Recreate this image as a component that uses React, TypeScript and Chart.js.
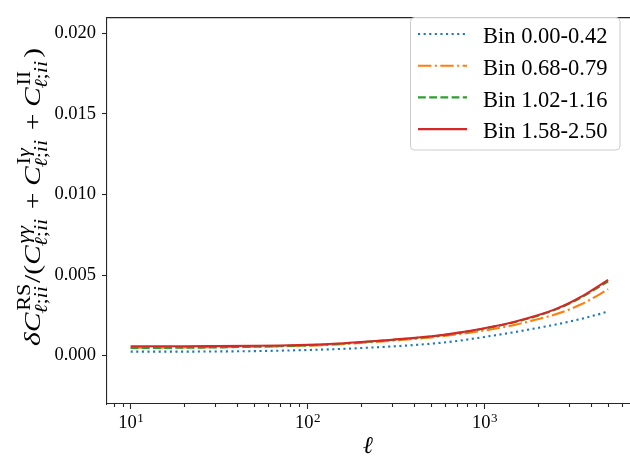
import React, { useEffect, useRef } from 'react';
import { Chart, registerables } from 'chart.js';

Chart.register(...registerables);

// ---------- data ----------
const ells = [10, 15, 20, 30, 50, 70, 100, 150, 200, 300, 500, 700, 1000, 1500, 2000, 2500, 3000, 3500, 4000, 4500, 5000];
const bin000_042 = [0.00025, 0.00025, 0.00025, 0.00026, 0.00028, 0.00031, 0.00035, 0.00041, 0.00047, 0.00057, 0.00074, 0.00091, 0.00116, 0.00147, 0.00172, 0.00192, 0.00210, 0.00227, 0.00244, 0.00259, 0.00274];
const bin068_079 = [0.00050, 0.00050, 0.00051, 0.00052, 0.00055, 0.00058, 0.00062, 0.00070, 0.00079, 0.00093, 0.00113, 0.00132, 0.00156, 0.00192, 0.00226, 0.00255, 0.00285, 0.00317, 0.00350, 0.00382, 0.00413];
const bin102_116 = [0.00047, 0.00048, 0.00049, 0.00051, 0.00055, 0.00059, 0.00064, 0.00073, 0.00083, 0.00097, 0.00118, 0.00139, 0.00168, 0.00209, 0.00247, 0.00284, 0.00321, 0.00359, 0.00396, 0.00430, 0.00460];
const bin158_250 = [0.00058, 0.00058, 0.00058, 0.00059, 0.00061, 0.00063, 0.00067, 0.00075, 0.00085, 0.00099, 0.00120, 0.00141, 0.00170, 0.00212, 0.00250, 0.00287, 0.00325, 0.00364, 0.00402, 0.00437, 0.00470];
const seriesLabels = ['Bin 0.00-0.42', 'Bin 0.68-0.79', 'Bin 1.02-1.16', 'Bin 1.58-2.50'];
const yTicks = [0, 0.005, 0.01, 0.015, 0.02];
const xMajorTicks = [10, 100, 1000];
const xLabel = 'ℓ';

// ---------- styles ----------
const SERIF = "'Liberation Serif', 'DejaVu Serif', serif";
const SPINE = '#262626';
const LW = 2.1;
const styles = [
  { color: '#1f77b4', dash: [2.1, 3.5] },
  { color: '#ff7f0e', dash: [13.4, 3.4, 2.1, 3.4] },
  { color: '#2ca02c', dash: [7.8, 3.4] },
  { color: '#d62728', dash: [] as number[] },
];
const seriesValues = [bin000_042, bin068_079, bin102_116, bin158_250];

type Run = [string, boolean];
type Item = { base: string; it: boolean; sup?: Run[]; sub?: Run[]; pad?: number };
const ellSub: Run[] = [['ℓ', true], [';', false], ['ii', true]];
const yLabelItems: Item[] = [
  { base: 'δ', it: true },
  { base: 'C', it: true, sup: [['RS', false]], sub: ellSub },
  { base: '/(', it: false },
  { base: 'C', it: true, sup: [['γγ', true]], sub: ellSub },
  { base: '+', it: false, pad: 0.22 },
  { base: 'C', it: true, sup: [['I', false], ['γ', true]], sub: ellSub },
  { base: '+', it: false, pad: 0.22 },
  { base: 'C', it: true, sup: [['II', false]], sub: ellSub },
  { base: ')', it: false },
];
const Y_LABEL_LENGTH = 298;

function drawYLabel(ctx: CanvasRenderingContext2D, cx: number, cy: number) {
  const fs = 24, ss = 18;
  const setFont = (size: number, it: boolean) => { ctx.font = `${it ? 'italic ' : ''}${size}px ${SERIF}`; };
  const runsWidth = (runs: Run[] | undefined) => {
    if (!runs) return 0;
    let w = 0;
    for (const [t, it] of runs) { setFont(ss, it); w += ctx.measureText(t).width; }
    return w + 1.5;
  };
  const itemWidth = (item: Item) => {
    setFont(fs, item.it);
    const pad = (item.pad || 0) * fs;
    return ctx.measureText(item.base).width + 2 * pad + (item.sup || item.sub ? Math.max(runsWidth(item.sup), runsWidth(item.sub)) : 0);
  };
  let total = 0;
  for (const item of yLabelItems) total += itemWidth(item);
  const sx = Y_LABEL_LENGTH / total;
  ctx.save();
  ctx.translate(cx, cy);
  ctx.rotate(-Math.PI / 2);
  ctx.scale(sx, 1);
  ctx.fillStyle = '#000';
  ctx.textBaseline = 'alphabetic';
  ctx.textAlign = 'left';
  let x = -total / 2;
  const drawRuns = (runs: Run[] | undefined, x0: number, y: number) => {
    if (!runs) return;
    let xx = x0;
    for (const [t, it] of runs) { setFont(ss, it); ctx.fillText(t, xx, y); xx += ctx.measureText(t).width; }
  };
  for (const item of yLabelItems) {
    const w = itemWidth(item);
    setFont(fs, item.it);
    const pad = (item.pad || 0) * fs;
    ctx.fillText(item.base, x + pad, 0);
    const bw = ctx.measureText(item.base).width;
    drawRuns(item.sup, x + bw + 1.5, -0.42 * fs);
    drawRuns(item.sub, x + bw - 1, 0.3 * fs);
    x += w;
  }
  ctx.restore();
}

const decorPlugin = {
  id: 'decor',
  afterDraw(chart: any) {
    const ctx: CanvasRenderingContext2D = chart.ctx;
    const a = chart.chartArea;
    const xs = chart.scales.x;
    ctx.save();
    // top spine
    ctx.strokeStyle = SPINE;
    ctx.lineWidth = 1.1;
    ctx.beginPath();
    ctx.moveTo(a.left, a.top + 0.5);
    ctx.lineTo(a.right, a.top + 0.5);
    ctx.stroke();
    // minor x ticks
    for (const d of [1, 10, 100, 1000]) {
      for (let k = 2; k < 10; k++) {
        const v = k * d;
        if (v < xs.min || v > xs.max) continue;
        const px = Math.round(xs.getPixelForValue(v)) + 0.5;
        ctx.beginPath();
        ctx.moveTo(px, a.bottom);
        ctx.lineTo(px, a.bottom + 3);
        ctx.stroke();
      }
    }
    // x tick labels 10^n
    ctx.fillStyle = '#000';
    ctx.textBaseline = 'alphabetic';
    ctx.textAlign = 'left';
    for (const v of xMajorTicks) {
      const px = xs.getPixelForValue(v);
      const e = String(Math.round(Math.log10(v)));
      ctx.font = `18.5px ${SERIF}`;
      const w1 = ctx.measureText('10').width;
      ctx.font = `13px ${SERIF}`;
      const w2 = ctx.measureText(e).width;
      const x0 = px - (w1 + w2) / 2;
      ctx.font = `18.5px ${SERIF}`;
      ctx.fillText('10', x0, a.bottom + 24);
      ctx.font = `13px ${SERIF}`;
      ctx.fillText(e, x0 + w1 + 0.5, a.bottom + 18);
    }
    // x axis title
    ctx.font = `italic 24px ${SERIF}`;
    ctx.textAlign = 'center';
    ctx.fillText(xLabel, (a.left + 631) / 2 - 1, a.bottom + 49);
    // y axis title
    drawYLabel(ctx, 40, 197);
    // legend
    const lx = 410.5, ly = 17.5, lw = 209.5, lh = 132.5, r = 4;
    ctx.beginPath();
    ctx.moveTo(lx + r, ly);
    ctx.lineTo(lx + lw - r, ly);
    ctx.arcTo(lx + lw, ly, lx + lw, ly + r, r);
    ctx.lineTo(lx + lw, ly + lh - r);
    ctx.arcTo(lx + lw, ly + lh, lx + lw - r, ly + lh, r);
    ctx.lineTo(lx + r, ly + lh);
    ctx.arcTo(lx, ly + lh, lx, ly + lh - r, r);
    ctx.lineTo(lx, ly + r);
    ctx.arcTo(lx, ly, lx + r, ly, r);
    ctx.closePath();
    ctx.fillStyle = 'rgba(255,255,255,0.8)';
    ctx.fill();
    ctx.strokeStyle = '#cccccc';
    ctx.lineWidth = 1;
    ctx.stroke();
    for (let i = 0; i < seriesLabels.length; i++) {
      const y = 34 + i * 31.7;
      ctx.strokeStyle = styles[i].color;
      ctx.lineWidth = LW;
      ctx.setLineDash(styles[i].dash);
      ctx.beginPath();
      ctx.moveTo(418, y);
      ctx.lineTo(467, y);
      ctx.stroke();
      ctx.setLineDash([]);
      ctx.fillStyle = '#000';
      ctx.font = `22.5px ${SERIF}`;
      ctx.textAlign = 'left';
      ctx.textBaseline = 'alphabetic';
      ctx.fillText(seriesLabels[i], 483, y + 9.3);
    }
    ctx.restore();
  },
};

export default function App() {
  const ref = useRef<HTMLCanvasElement | null>(null);
  useEffect(() => {
    document.body.style.margin = '0';
    document.body.style.overflow = 'hidden';
    const canvas = ref.current!;
    const chart = new Chart(canvas, {
      type: 'line',
      data: {
        datasets: seriesValues.map((vals, i) => ({
          label: seriesLabels[i],
          data: ells.map((l, j) => ({ x: l, y: vals[j] })),
          borderColor: styles[i].color,
          backgroundColor: styles[i].color,
          borderDash: styles[i].dash,
          borderWidth: LW,
          pointRadius: 0,
          fill: false,
          cubicInterpolationMode: 'monotone' as const,
          order: 3 - i,
        })),
      },
      options: {
        responsive: false,
        animation: false,
        layout: { padding: { top: 7, right: 0, left: 0, bottom: 0 } },
        plugins: { legend: { display: false }, tooltip: { enabled: false }, title: { display: false } },
        scales: {
          x: {
            type: 'logarithmic',
            min: 7.35,
            max: 6650,
            afterFit: (s: any) => { s.height = 55; },
            afterBuildTicks: (s: any) => { s.ticks = xMajorTicks.map((v) => ({ value: v })); },
            ticks: { autoSkip: false, callback: () => '', font: { family: SERIF, size: 18 } },
            grid: { drawOnChartArea: false, drawTicks: true, tickLength: 5, color: SPINE, tickWidth: 1.1 },
            border: { display: true, color: SPINE, width: 1.1 },
          },
          y: {
            type: 'linear',
            min: -0.003,
            max: 0.021,
            afterFit: (s: any) => { s.width = 107; },
            afterBuildTicks: (s: any) => { s.ticks = yTicks.map((v) => ({ value: v })); },
            ticks: {
              autoSkip: false,
              padding: 6,
              color: '#000',
              font: { family: SERIF, size: 18.5 },
              callback: (v: any) => Number(v).toFixed(3),
            },
            grid: { drawOnChartArea: false, drawTicks: true, tickLength: 5, color: SPINE, tickWidth: 1.1 },
            border: { display: true, color: SPINE, width: 1.1 },
          },
        },
      },
      plugins: [decorPlugin],
    });
    return () => chart.destroy();
  }, []);
  return (
    <canvas
      ref={ref}
      width={630}
      height={459}
      style={{ position: 'absolute', left: 0, top: 0, width: 630, height: 459, display: 'block' }}
    />
  );
}
